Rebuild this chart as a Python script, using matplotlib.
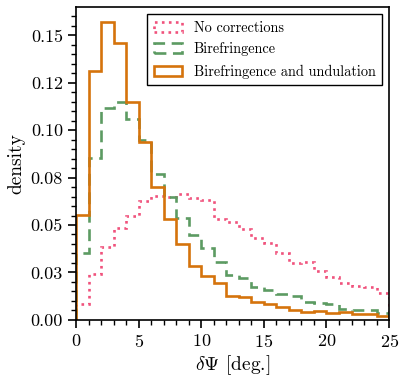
import matplotlib
matplotlib.use("Agg")
import matplotlib.pyplot as plt
import numpy as np
from matplotlib.ticker import MultipleLocator

# histogram data: densities in 1-degree bins from 0 to 25
bin_edges = np.arange(0, 26, 1)

no_corrections = [
    0.0086, 0.0241, 0.0386, 0.0483, 0.0545, 0.0628, 0.0651, 0.0648, 0.0663,
    0.0642, 0.0633, 0.0531, 0.0518, 0.0480, 0.0434, 0.0404, 0.0354, 0.0301,
    0.0306, 0.0259, 0.0224, 0.0192, 0.0178, 0.0174, 0.0144,
]
birefringence = [
    0.0351, 0.0852, 0.1119, 0.1149, 0.1061, 0.0948, 0.0771, 0.0648, 0.0536,
    0.0448, 0.0380, 0.0304, 0.0238, 0.0218, 0.0174, 0.0156, 0.0135, 0.0125,
    0.0096, 0.0091, 0.0086, 0.0059, 0.0050, 0.0054, 0.0036,
]
bire_undulation = [
    0.0554, 0.1313, 0.1570, 0.1460, 0.1149, 0.0937, 0.0702, 0.0531, 0.0402,
    0.0282, 0.0232, 0.0196, 0.0125, 0.0121, 0.0094, 0.0086, 0.0068, 0.0050,
    0.0041, 0.0047, 0.0036, 0.0041, 0.0028, 0.0033, 0.0022,
]

labels = ["No corrections", "Birefringence", "Birefringence and undulation"]
y_ticks = [0.0, 0.025, 0.05, 0.075, 0.10, 0.125, 0.15]
y_tick_labels = ["0.00", "0.03", "0.05", "0.08", "0.10", "0.12", "0.15"]

plt.rcParams["font.family"] = "cmr10"
plt.rcParams["mathtext.fontset"] = "cm"
plt.rcParams["axes.formatter.use_mathtext"] = True

fig = plt.figure(figsize=(4.07, 3.83), dpi=100)
ax = fig.add_axes([0.187, 0.165, 0.769, 0.816])

centers = bin_edges[:-1] + 0.5
ax.hist(centers, bins=bin_edges, weights=no_corrections, histtype="step",
        color="#f0527c", linestyle=":", linewidth=1.9, label=labels[0])
ax.hist(centers, bins=bin_edges, weights=birefringence, histtype="step",
        color="#5c9b62", linestyle=(0, (4.5, 2.5)), linewidth=1.9,
        label=labels[1])
ax.hist(centers, bins=bin_edges, weights=bire_undulation, histtype="step",
        color="#d5730c", linestyle="-", linewidth=1.9, label=labels[2])

ax.set_xlim(0, 25)
ax.set_ylim(0, 1.05 * max(bire_undulation))
ax.set_yticks(y_ticks)
ax.set_yticklabels(y_tick_labels)
ax.xaxis.set_major_locator(MultipleLocator(5))
ax.xaxis.set_minor_locator(MultipleLocator(1))
ax.yaxis.set_minor_locator(MultipleLocator(0.005))

ax.tick_params(which="major", length=6, width=1.2, labelsize=13)
ax.tick_params(which="minor", length=3.5, width=1.0)
for spine in ax.spines.values():
    spine.set_linewidth(1.2)

ax.set_xlabel(r"$\delta\Psi$ [deg.]", fontsize=14, labelpad=2)
ax.set_ylabel("density", fontsize=14, labelpad=4)

leg = ax.legend(loc="upper right", fontsize=10.3, fancybox=False,
                edgecolor="black", framealpha=1, borderaxespad=0.5,
                handlelength=2.0, handleheight=0.7, borderpad=0.45,
                labelspacing=0.55, handletextpad=0.8)
leg.get_frame().set_linewidth(1.0)

fig.savefig("out.png", dpi=100)
